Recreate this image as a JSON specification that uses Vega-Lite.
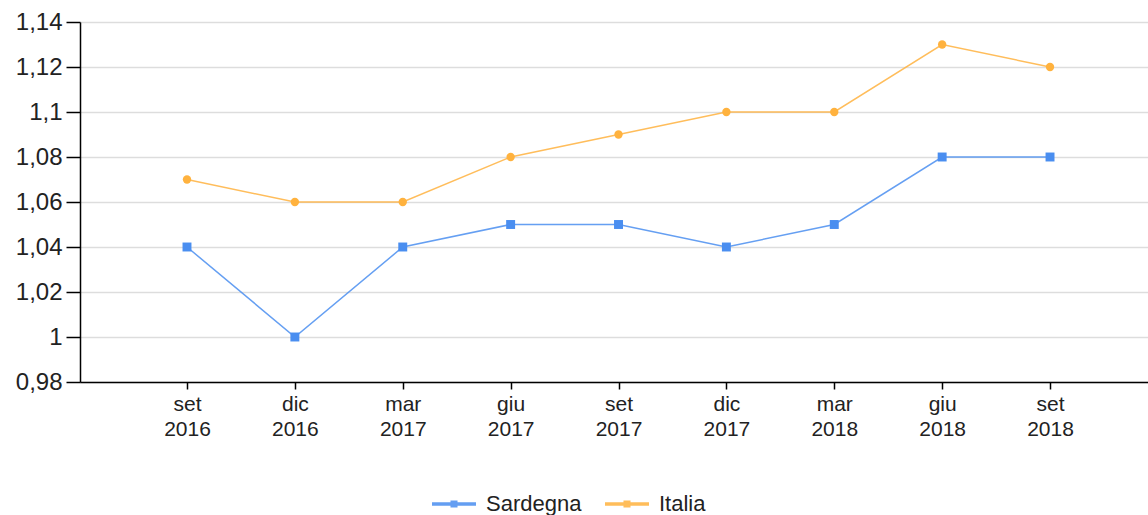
{
  "$schema": "https://vega.github.io/schema/vega-lite/v6.json",
  "width": 1068,
  "height": 360,
  "autosize": "none",
  "padding": {"left": 80, "top": 22, "right": 0, "bottom": 133},
  "background": "white",
  "config": {
    "view": {"stroke": null},
    "font": "Liberation Sans"
  },
  "data": {
    "values": [
      {"periodo": "set 2016", "serie": "Sardegna", "valore": 1.04},
      {"periodo": "dic 2016", "serie": "Sardegna", "valore": 1.00},
      {"periodo": "mar 2017", "serie": "Sardegna", "valore": 1.04},
      {"periodo": "giu 2017", "serie": "Sardegna", "valore": 1.05},
      {"periodo": "set 2017", "serie": "Sardegna", "valore": 1.05},
      {"periodo": "dic 2017", "serie": "Sardegna", "valore": 1.04},
      {"periodo": "mar 2018", "serie": "Sardegna", "valore": 1.05},
      {"periodo": "giu 2018", "serie": "Sardegna", "valore": 1.08},
      {"periodo": "set 2018", "serie": "Sardegna", "valore": 1.08},
      {"periodo": "set 2016", "serie": "Italia", "valore": 1.07},
      {"periodo": "dic 2016", "serie": "Italia", "valore": 1.06},
      {"periodo": "mar 2017", "serie": "Italia", "valore": 1.06},
      {"periodo": "giu 2017", "serie": "Italia", "valore": 1.08},
      {"periodo": "set 2017", "serie": "Italia", "valore": 1.09},
      {"periodo": "dic 2017", "serie": "Italia", "valore": 1.10},
      {"periodo": "mar 2018", "serie": "Italia", "valore": 1.10},
      {"periodo": "giu 2018", "serie": "Italia", "valore": 1.13},
      {"periodo": "set 2018", "serie": "Italia", "valore": 1.12}
    ]
  },
  "encoding": {
    "x": {
      "field": "periodo",
      "type": "ordinal",
      "sort": null,
      "scale": {"type": "point", "padding": 0.95, "align": 0.522},
      "axis": {
        "title": null,
        "labelAngle": 0,
        "labelExpr": "split(datum.label, ' ')",
        "labelFontSize": 21,
        "labelLineHeight": 25,
        "labelColor": "#222222",
        "labelPadding": 4,
        "tickSize": 7,
        "tickColor": "#000000",
        "tickWidth": 1.5,
        "domainColor": "#000000",
        "domainWidth": 1.5,
        "grid": false
      }
    },
    "y": {
      "field": "valore",
      "type": "quantitative",
      "scale": {"domain": [0.98, 1.14], "zero": false, "nice": false},
      "axis": {
        "title": null,
        "values": [0.98, 1.0, 1.02, 1.04, 1.06, 1.08, 1.1, 1.12, 1.14],
        "format": ".3~g",
        "labelExpr": "replace(datum.label, '.', ',')",
        "labelFontSize": 24,
        "labelColor": "#222222",
        "labelPadding": 4,
        "tickSize": 14,
        "tickColor": "#000000",
        "tickWidth": 1.5,
        "domainColor": "#000000",
        "domainWidth": 1.5,
        "grid": true,
        "gridColor": "#dddddd",
        "gridWidth": 1.5
      }
    },
    "color": {
      "field": "serie",
      "type": "nominal",
      "scale": {"domain": ["Sardegna", "Italia"], "range": ["#4a8ef0", "#ffb23e"]},
      "legend": {
        "title": null,
        "orient": "none",
        "direction": "horizontal",
        "legendX": 350,
        "legendY": 458,
        "symbolType": "M-1,0H1M-0.08,-0.08H0.08V0.08H-0.08Z",
        "symbolSize": 1936,
        "symbolStrokeWidth": 3.5,
        "labelFontSize": 22,
        "labelColor": "#222222",
        "labelOffset": 8,
        "columnPadding": 16
      }
    }
  },
  "layer": [
    {
      "mark": {"type": "line", "strokeWidth": 1.5, "opacity": 0.85}
    },
    {
      "transform": [{"filter": "datum.serie === 'Sardegna'"}],
      "mark": {"type": "point", "shape": "square", "filled": true, "size": 80, "opacity": 1}
    },
    {
      "transform": [{"filter": "datum.serie === 'Italia'"}],
      "mark": {"type": "point", "shape": "circle", "filled": true, "size": 70, "opacity": 1}
    }
  ]
}
